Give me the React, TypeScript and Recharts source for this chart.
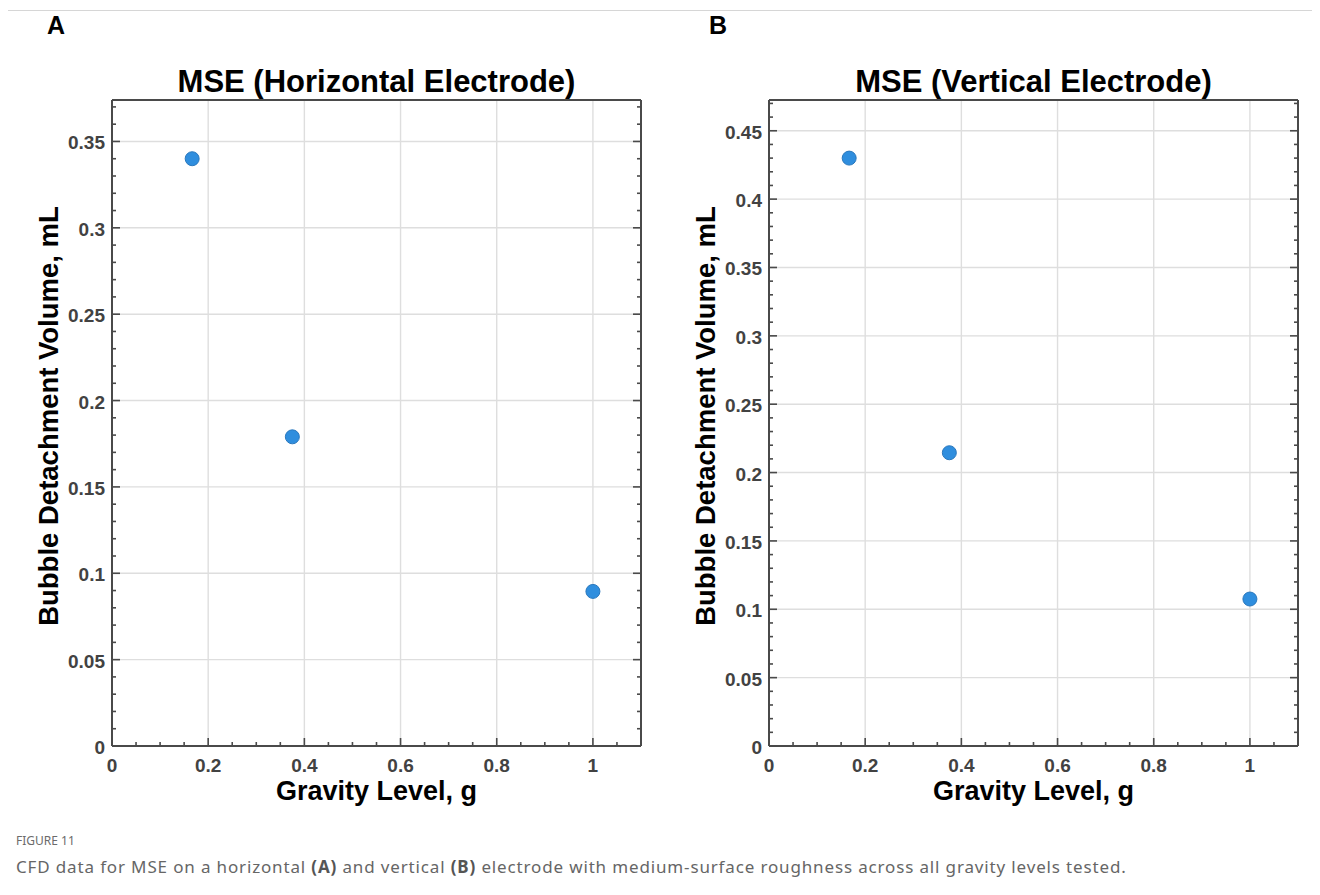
import React from 'react';
import { ScatterChart, Scatter, XAxis, YAxis, CartesianGrid } from 'recharts';

// ---------- data ----------
const gravityLevels = [0.1667, 0.375, 1.0];
const horizontalVolumes = [0.34, 0.179, 0.0895];
const verticalVolumes = [0.43, 0.2145, 0.1075];

const xMajorTicks = [0, 0.2, 0.4, 0.6, 0.8, 1];
const xAllTicks = [0, 0.05, 0.1, 0.15, 0.2, 0.25, 0.3, 0.35, 0.4, 0.45, 0.5, 0.55, 0.6, 0.65, 0.7, 0.75, 0.8, 0.85, 0.9, 0.95, 1, 1.05];
const xTickLabels = ['0', '0.2', '0.4', '0.6', '0.8', '1'];

const yMajorA = [0, 0.05, 0.1, 0.15, 0.2, 0.25, 0.3, 0.35];
const yLabelsA = ['0', '0.05', '0.1', '0.15', '0.2', '0.25', '0.3', '0.35'];
const yAllA = [0, 0.01, 0.02, 0.03, 0.04, 0.05, 0.06, 0.07, 0.08, 0.09, 0.1, 0.11, 0.12, 0.13, 0.14, 0.15, 0.16, 0.17, 0.18, 0.19, 0.2, 0.21, 0.22, 0.23, 0.24, 0.25, 0.26, 0.27, 0.28, 0.29, 0.3, 0.31, 0.32, 0.33, 0.34, 0.35, 0.36, 0.37];

const yMajorB = [0, 0.05, 0.1, 0.15, 0.2, 0.25, 0.3, 0.35, 0.4, 0.45];
const yLabelsB = ['0', '0.05', '0.1', '0.15', '0.2', '0.25', '0.3', '0.35', '0.4', '0.45'];
const yAllB = [0, 0.01, 0.02, 0.03, 0.04, 0.05, 0.06, 0.07, 0.08, 0.09, 0.1, 0.11, 0.12, 0.13, 0.14, 0.15, 0.16, 0.17, 0.18, 0.19, 0.2, 0.21, 0.22, 0.23, 0.24, 0.25, 0.26, 0.27, 0.28, 0.29, 0.3, 0.31, 0.32, 0.33, 0.34, 0.35, 0.36, 0.37, 0.38, 0.39, 0.4, 0.41, 0.42, 0.43, 0.44, 0.45, 0.46, 0.47];

const xDomain: [number, number] = [0, 1.1];
const yDomainA: [number, number] = [0, 0.374];
const yDomainB: [number, number] = [0, 0.4725];

const titles = ['MSE (Horizontal Electrode)', 'MSE (Vertical Electrode)'];
const panelLetters = ['A', 'B'];
const yAxisTitle = 'Bubble Detachment Volume, mL';
const xAxisTitle = 'Gravity Level, g';

// ---------- style ----------
const AXIS = '#4a4a4a';
const TICK_TEXT = '#424242';
const GRID = '#dedede';
const MARKER = '#2f8ede';
const MARKER_EDGE = '#2a78bd';
const FONT = '"Liberation Sans", Arial, Helvetica, sans-serif';
const MAJOR_LEN = 8;
const MINOR_LEN = 4;

const findMajor = (majors: number[], v: number) => majors.findIndex((m) => Math.abs(m - v) < 1e-7);

const makeTick = (orient: 'bottom' | 'top' | 'left' | 'right', majors: number[], labels: string[] | null) =>
  (props: any) => {
    const { x, y, payload } = props;
    const idx = findMajor(majors, payload.value);
    const len = idx >= 0 ? MAJOR_LEN : MINOR_LEN;
    let line = null;
    let text = null;
    if (orient === 'bottom') {
      line = <line x1={x} x2={x} y1={y} y2={y - len} stroke={AXIS} strokeWidth={1.6} />;
      if (labels && idx >= 0)
        text = (
          <text x={x} y={y + 26} textAnchor="middle" fill={TICK_TEXT} fontSize={19} fontWeight="bold" fontFamily={FONT}>
            {labels[idx]}
          </text>
        );
    } else if (orient === 'top') {
      line = <line x1={x} x2={x} y1={y} y2={y + len} stroke={AXIS} strokeWidth={1.6} />;
    } else if (orient === 'left') {
      line = <line x1={x} x2={x + len} y1={y} y2={y} stroke={AXIS} strokeWidth={1.6} />;
      if (labels && idx >= 0)
        text = (
          <text x={x - 7} y={y + 8} textAnchor="end" fill={TICK_TEXT} fontSize={19} fontWeight="bold" fontFamily={FONT}>
            {labels[idx]}
          </text>
        );
    } else {
      line = <line x1={x} x2={x - len} y1={y} y2={y} stroke={AXIS} strokeWidth={1.6} />;
    }
    return (
      <g>
        {line}
        {text}
      </g>
    );
  };

const Marker = (props: any) => (
  <circle cx={props.cx} cy={props.cy} r={7} fill={MARKER} stroke={MARKER_EDGE} strokeWidth={1} />
);

const CHART_W = 660;
const CHART_H = 820;
// plot area: x 112..641, y 100..746 (axes take 1px each)
const MARGIN = { top: 99, left: 111, right: 18, bottom: 73 };
const PLOT_LEFT = 112;
const PLOT_RIGHT = 641;
const PLOT_BOTTOM = 746;

type PanelProps = {
  left: number;
  letterLeft: number;
  title: string;
  letter: string;
  values: number[];
  yDomain: [number, number];
  yMajor: number[];
  yLabels: string[];
  yAll: number[];
};

function Panel({ left, letterLeft, title, letter, values, yDomain, yMajor, yLabels, yAll }: PanelProps) {
  const data = gravityLevels.map((g, i) => ({ g, v: values[i] }));
  const plotCenterX = left + (PLOT_LEFT + PLOT_RIGHT) / 2;
  const axisLine = { stroke: AXIS, strokeWidth: 2 };
  return (
    <>
      <div style={{ position: 'absolute', left, top: 0 }}>
        <ScatterChart width={CHART_W} height={CHART_H} margin={MARGIN}>
          <CartesianGrid
            xAxisId="b"
            yAxisId="l"
            verticalValues={xMajorTicks}
            horizontalValues={yMajor}
            stroke={GRID}
            strokeWidth={1.4}
          />
          <XAxis
            xAxisId="b"
            dataKey="g"
            type="number"
            orientation="bottom"
            domain={xDomain}
            allowDataOverflow
            ticks={xAllTicks}
            interval={0}
            height={1}
            tickSize={0}
            tickMargin={0}
            tickLine={false}
            axisLine={axisLine}
            tick={makeTick('bottom', xMajorTicks, xTickLabels)}
          />
          <XAxis
            xAxisId="t"
            type="number"
            orientation="top"
            domain={xDomain}
            allowDataOverflow
            ticks={xAllTicks}
            interval={0}
            height={1}
            tickSize={0}
            tickMargin={0}
            tickLine={false}
            axisLine={axisLine}
            tick={makeTick('top', xMajorTicks, null)}
          />
          <YAxis
            yAxisId="l"
            dataKey="v"
            type="number"
            orientation="left"
            domain={yDomain}
            allowDataOverflow
            ticks={yAll}
            interval={0}
            width={1}
            tickSize={0}
            tickMargin={0}
            tickLine={false}
            axisLine={axisLine}
            tick={makeTick('left', yMajor, yLabels)}
          />
          <YAxis
            yAxisId="r"
            type="number"
            orientation="right"
            domain={yDomain}
            allowDataOverflow
            ticks={yAll}
            interval={0}
            width={1}
            tickSize={0}
            tickMargin={0}
            tickLine={false}
            axisLine={axisLine}
            tick={makeTick('right', yMajor, null)}
          />
          <Scatter data={data} xAxisId="b" yAxisId="l" shape={Marker} isAnimationActive={false} />
        </ScatterChart>
      </div>
      <div
        style={{
          position: 'absolute',
          left: letterLeft,
          top: 11,
          fontFamily: FONT,
          fontWeight: 'bold',
          fontSize: 25,
          color: '#000',
        }}
      >
        {letter}
      </div>
      <div
        style={{
          position: 'absolute',
          left: plotCenterX,
          top: 64,
          transform: 'translateX(-50%)',
          whiteSpace: 'nowrap',
          fontFamily: FONT,
          fontWeight: 'bold',
          fontSize: 31,
          lineHeight: '36px',
          color: '#000',
        }}
      >
        {title}
      </div>
      <div
        style={{
          position: 'absolute',
          left: left + 49,
          top: 416,
          transform: 'translate(-50%, -50%) rotate(-90deg)',
          whiteSpace: 'nowrap',
          fontFamily: FONT,
          fontWeight: 'bold',
          fontSize: 27.5,
          lineHeight: '32px',
          color: '#000',
        }}
      >
        {yAxisTitle}
      </div>
      <div
        style={{
          position: 'absolute',
          left: plotCenterX,
          top: PLOT_BOTTOM + 35,
          transform: 'translateX(-50%)',
          whiteSpace: 'nowrap',
          fontFamily: FONT,
          fontWeight: 'bold',
          fontSize: 27,
          lineHeight: '20px',
          color: '#000',
        }}
      >
        {xAxisTitle}
      </div>
    </>
  );
}

export default function App() {
  return (
    <div style={{ position: 'relative', width: 1320, height: 895, margin: -8, background: '#fff', overflow: 'hidden' }}>
      <div
        style={{
          position: 'absolute',
          left: 6,
          top: 10,
          width: 1400,
          height: 1000,
          borderTop: '1px solid #d6d6d6',
          borderLeft: '1px solid #d6d6d6',
        }}
      />
      <Panel
        left={0}
        letterLeft={47}
        title={titles[0]}
        letter={panelLetters[0]}
        values={horizontalVolumes}
        yDomain={yDomainA}
        yMajor={yMajorA}
        yLabels={yLabelsA}
        yAll={yAllA}
      />
      <Panel
        left={657}
        letterLeft={709}
        title={titles[1]}
        letter={panelLetters[1]}
        values={verticalVolumes}
        yDomain={yDomainB}
        yMajor={yMajorB}
        yLabels={yLabelsB}
        yAll={yAllB}
      />
      <div
        style={{
          position: 'absolute',
          left: 16,
          top: 832,
          fontFamily: '"Noto Sans", "Open Sans", sans-serif',
          fontSize: 12,
          color: '#6b6b6b',
        }}
      >
        FIGURE 11
      </div>
      <div
        style={{
          position: 'absolute',
          left: 16,
          top: 855,
          fontFamily: '"Noto Sans", "Open Sans", sans-serif',
          fontSize: 17,
          letterSpacing: 0.85,
          color: '#666666',
          whiteSpace: 'nowrap',
        }}
      >
        CFD data for MSE on a horizontal <b style={{ color: '#555' }}>(A)</b> and vertical{' '}
        <b style={{ color: '#555' }}>(B)</b> electrode with medium-surface roughness across all gravity levels tested.
      </div>
    </div>
  );
}
